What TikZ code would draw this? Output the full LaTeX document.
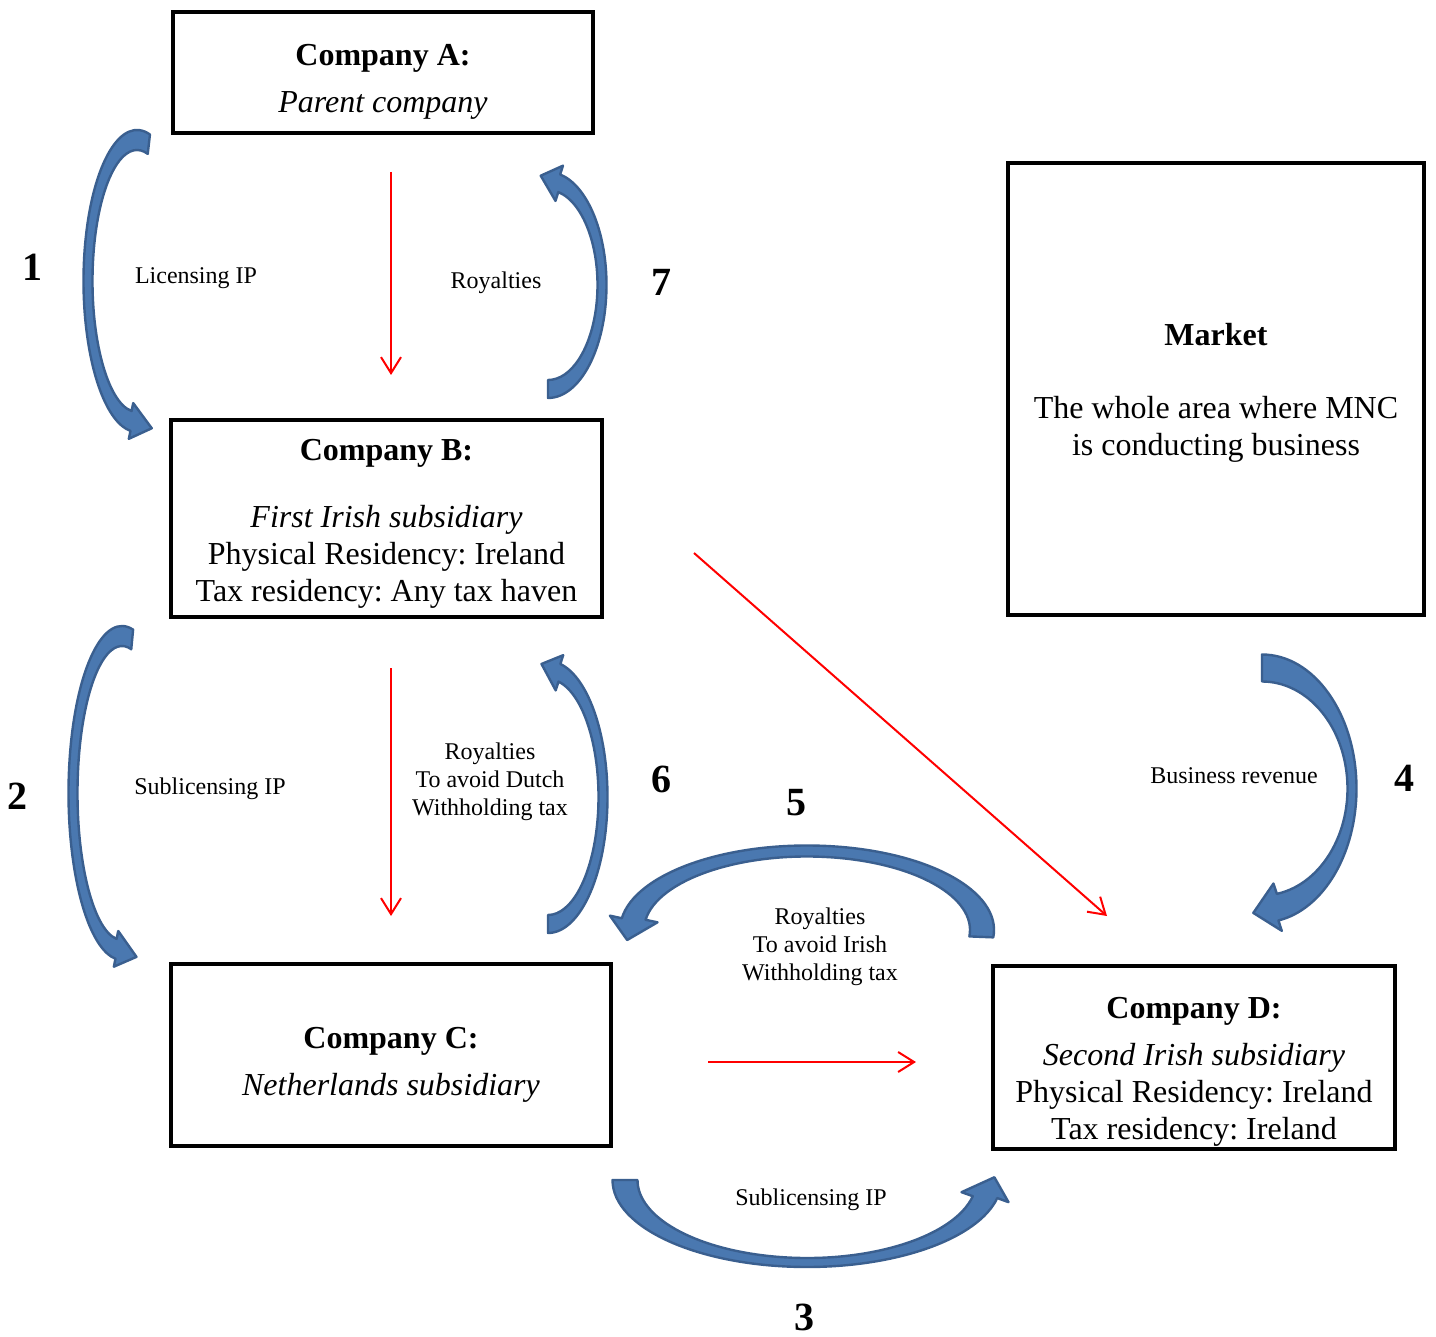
\documentclass[tikz,border=0pt]{standalone}
\usepackage{fontspec}
\setmainfont{Liberation Serif}
\usetikzlibrary{arrows.meta, calc}
\usepackage{xcolor}
\definecolor{Flow}{HTML}{FF0000}
\definecolor{ArrowFill}{HTML}{4A78B0}
\definecolor{ArrowEdge}{HTML}{3A5F8F}
\frenchspacing

% curved block arrow along an ellipse
% #1 centre, #2/#3 radii, #4 start angle, #5 head angle,
% #6/#7 half band (x/y), #8 half head, #9 head length
\newcommand{\bluearrow}[9]{%
    \pgfmathsetmacro{\dirsign}{sign(#5-#4)}
    \pgfmathsetmacro{\rxo}{#2+#6}\pgfmathsetmacro{\ryo}{#3+#7}
    \pgfmathsetmacro{\rxi}{#2-#6}\pgfmathsetmacro{\ryi}{#3-#7}
    \pgfmathsetmacro{\rxh}{#2+#8}\pgfmathsetmacro{\ryh}{#3+#8}
    \pgfmathsetmacro{\rxl}{#2-#8}\pgfmathsetmacro{\ryl}{#3-#8}
    \pgfmathsetmacro{\tanx}{-1*(\dirsign)*#2*sin(#5)}
    \pgfmathsetmacro{\tany}{(\dirsign)*#3*cos(#5)}
    \coordinate (hb) at ($(#1)+({#5}:{#2} and {#3})$);
    \coordinate (hd) at ($(hb)+(\tanx,\tany)$);
    \coordinate (ht) at ($(hb)!#9!(hd)$);
    \filldraw[blockarrow] ($(#1)+({#4}:{\rxo} and {\ryo})$)
        arc[start angle=#4, end angle=#5, x radius=\rxo, y radius=\ryo]
        -- ($(#1)+({#5}:{\rxh} and {\ryh})$) -- (ht)
        -- ($(#1)+({#5}:{\rxl} and {\ryl})$)
        -- ($(#1)+({#5}:{\rxi} and {\ryi})$)
        arc[start angle=#5, end angle=#4, x radius=\rxi, y radius=\ryi] -- cycle;
}

\begin{document}
\begin{tikzpicture}[
            x=0.5pt, y=-0.5pt,
            company/.style={
                rectangle,
                draw=black,
                line width=2pt,
                inner sep=0pt,
                align=center,
                font=\fontsize{16}{18.5}\selectfont
            },
            flow/.style={-{Straight Barb[length=8pt, width=10pt]}, line width=1pt, color=Flow},
            blockarrow/.style={fill=ArrowFill, draw=ArrowEdge, line width=1.2pt, line join=round},
            note/.style={font=\fontsize{12}{14}\selectfont, align=center},
            tag/.style={font=\fontsize{20}{24}\selectfont\bfseries}
        ]
            \useasboundingbox (0,0) rectangle (1436,1337);

            % Companies and market
            \node[company, minimum width=210pt, minimum height=60.5pt] (compA) at (383,72.5)
                {\rule{0pt}{20pt}\textbf{Company A:}\\[5pt]\textit{Parent company}};
            \node[company, minimum width=215.5pt, minimum height=98.5pt] (compB) at (386.5,518.5)
                {\rule{0pt}{16pt}\textbf{Company B:}\\[15pt]\textit{First Irish subsidiary}\\Physical Residency: Ireland\\Tax residency: Any tax haven};
            \node[company, minimum width=220pt, minimum height=91pt] (compC) at (391,1055)
                {\rule{0pt}{20pt}\textbf{Company C:}\\[5pt]\textit{Netherlands subsidiary}};
            \node[company, minimum width=201pt, minimum height=91.5pt] (compD) at (1194,1057.5)
                {\rule{0pt}{25pt}\textbf{Company D:}\\[5pt]\textit{Second Irish subsidiary}\\Physical Residency: Ireland\\Tax residency: Ireland};
            \node[company, minimum width=208pt, minimum height=226pt] (market) at (1216,389)
                {\rule{0pt}{15pt}\textbf{Market}\\[18pt]The whole area where MNC\\is conducting business};

            % Red flows
            \draw[flow, shorten <=18.5pt, shorten >=21.5pt] ([xshift=4pt]compA.south) -- ([xshift=2.25pt]compB.north);
            \draw[flow, shorten <=24.5pt, shorten >=23pt] ([xshift=2.25pt]compB.south) -- (compC.north);
            \draw[flow, shorten <=47.5pt, shorten >=37.5pt] ([yshift=-3.5pt]compC.east) -- ([yshift=-2.25pt]compD.west);
            \draw[flow] ($(compB.east)+(90,34.5)$) -- ($(compD.north)+(-87,-48)$);

            % Curved block arrows
            \coordinate (c1) at (137,281);
            \coordinate (c7) at (548,285);
            \coordinate (c2) at (122,793);
            \coordinate (c6) at (548,797);
            \coordinate (c5) at (807,930);
            \coordinate (c4) at (1262,788.5);
            \coordinate (c3) at (807,1180);
            \bluearrow{c1}{49}{141}{284}{97}{4.5}{10}{18}{11pt}
            \bluearrow{c7}{54}{104}{90}{-78}{4.5}{9}{18}{10pt}
            \bluearrow{c2}{49}{157}{282}{97}{4.5}{10}{18}{11pt}
            \bluearrow{c6}{55}{127}{90}{-78}{4.5}{9}{18}{10pt}
            \bluearrow{c5}{175}{79}{5}{-172}{12}{5.5}{24}{11pt}
            \bluearrow{c4}{90}{120.5}{-90}{80}{4.5}{13.5}{24}{12.5pt}
            \bluearrow{c3}{182}{82.5}{180}{12}{12.5}{4.5}{24}{11pt}

            % Arrow labels
            \node[note] (licA) at (196,278) {Licensing IP};
            \node[note] (royA) at (496,283) {Royalties};
            \node[note] (subB) at (210,789) {Sublicensing IP};
            \node[note] (royB) at (490,782) {Royalties\\To avoid Dutch\\Withholding tax};
            \node[note] (revD) at (1234,776) {Business revenue};
            \node[note] (royC) at (820,947) {Royalties\\To avoid Irish\\Withholding tax};
            \node[note] (subC) at (811,1200) {Sublicensing IP};

            % Step numbers
            \node[tag] (n1) at (32,267) {1};
            \node[tag] (n2) at (18,796) {2};
            \node[tag] (n3) at (804,1317) {3};
            \node[tag] (n4) at (1404,778) {4};
            \node[tag] (n5) at (796,803) {5};
            \node[tag] (n6) at (661,779) {6};
            \node[tag] (n7) at (661,282) {7};
        \end{tikzpicture}
\end{document}
